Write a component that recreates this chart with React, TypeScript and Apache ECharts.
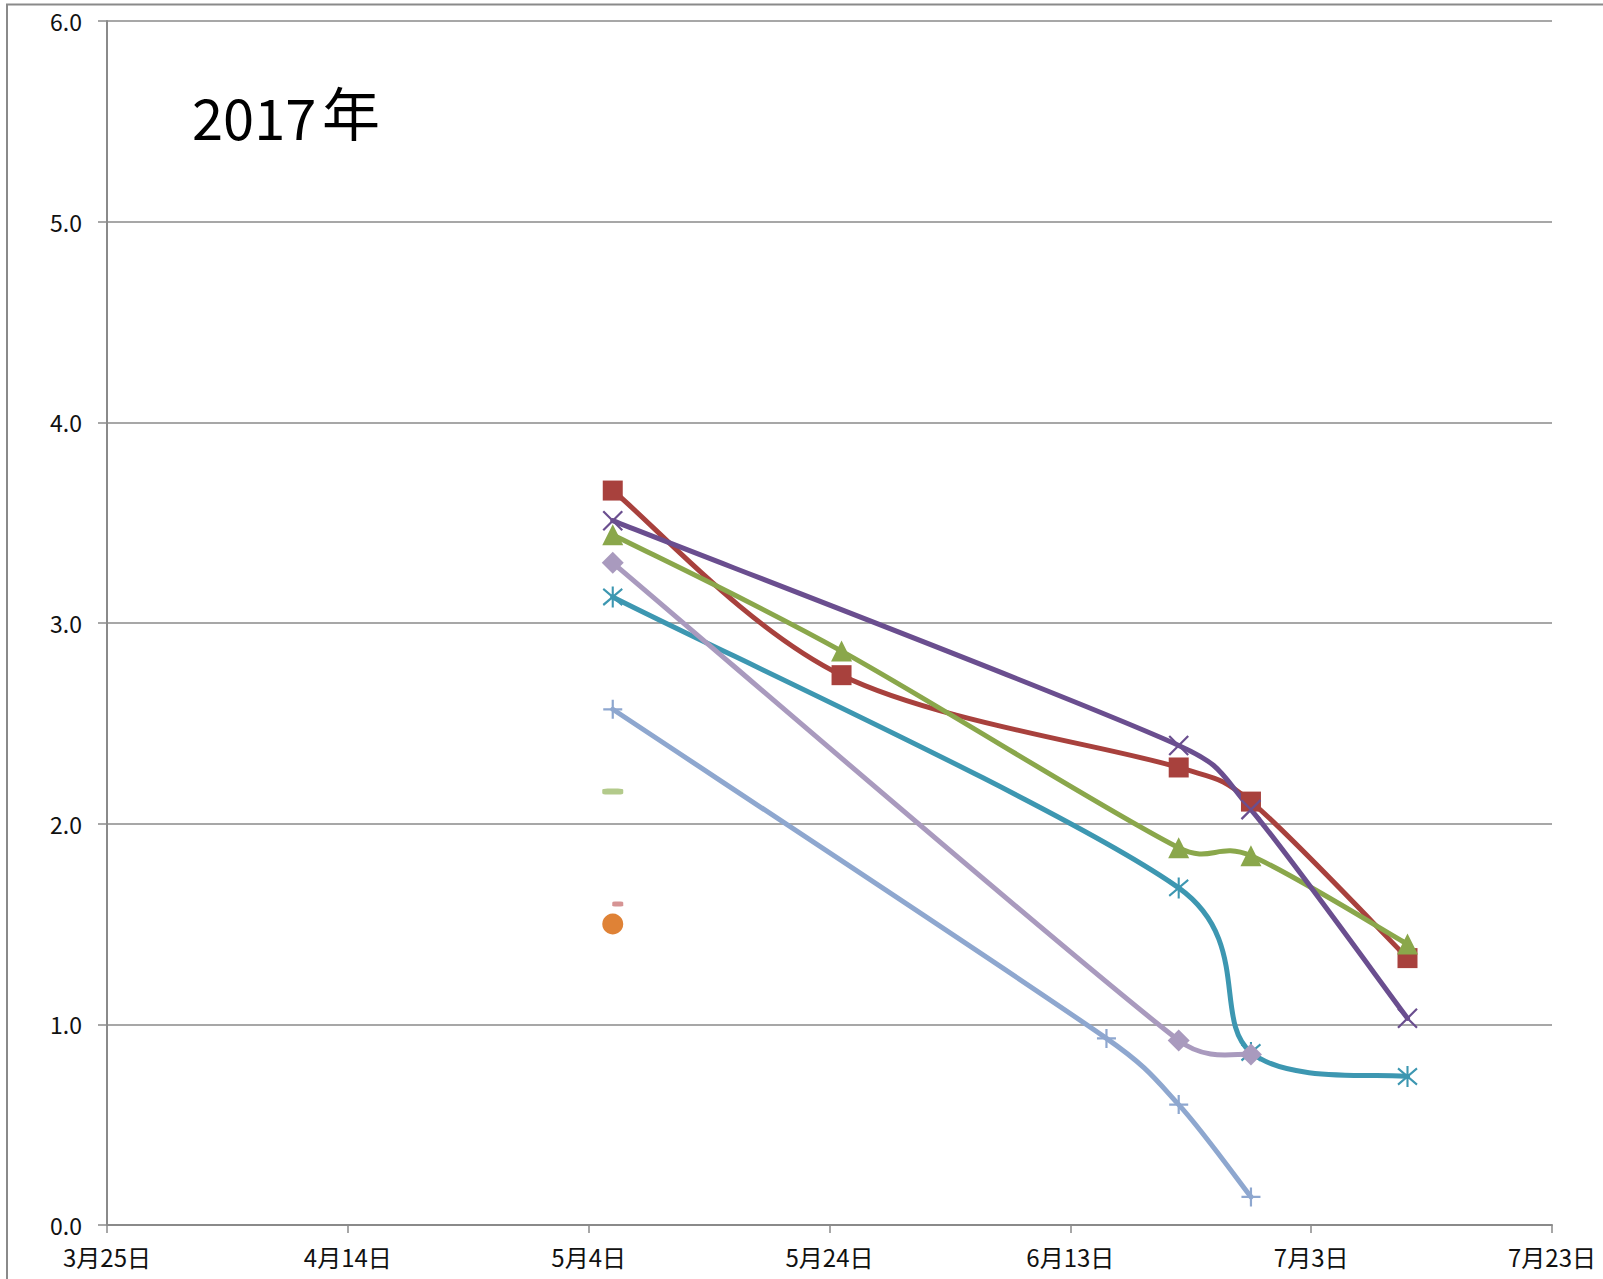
import React, { useEffect, useRef } from "react";
import * as echarts from "echarts";

// ---- data ----
const axisStart = "2017-03-25";
const axisEndDays = 120;
const tickStepDays = 20;
const yTicks = [0, 1, 2, 3, 4, 5, 6];
const titleYear = "2017";
const titleSuffix = "年";

const redDates = ["2017-05-06", "2017-05-25", "2017-06-22", "2017-06-28", "2017-07-11"];
const redValues = [3.66, 2.74, 2.28, 2.11, 1.33];

const greenDates = ["2017-05-06", "2017-05-25", "2017-06-22", "2017-06-28", "2017-07-11"];
const greenValues = [3.44, 2.86, 1.88, 1.84, 1.40];

const purpleDates = ["2017-05-06", "2017-06-22", "2017-06-28", "2017-07-11"];
const purpleValues = [3.51, 2.39, 2.07, 1.03];

const tealDates = ["2017-05-06", "2017-06-22", "2017-06-28", "2017-07-11"];
const tealValues = [3.13, 1.68, 0.86, 0.74];

const orangeDates = ["2017-05-06"];
const orangeValues = [1.50];

const blueDates = ["2017-05-06", "2017-06-16", "2017-06-22", "2017-06-28"];
const blueValues = [2.57, 0.93, 0.60, 0.14];

const lilacDates = ["2017-05-06", "2017-06-22", "2017-06-28"];
const lilacValues = [3.30, 0.92, 0.85];

const lightGreenDates = ["2017-05-06"];
const lightGreenValues = [2.16];

const pinkDates = ["2017-05-06"];
const pinkValues = [1.60];

// ---- helpers ----
const DAY = 86400000;
const parse = (s: string) => {
  const [y, m, d] = s.split("-").map(Number);
  return Date.UTC(y, m - 1, d);
};
const base = parse(axisStart);
const dayOf = (s: string) => (parse(s) - base) / DAY;
const pairs = (ds: string[], vs: number[]) => ds.map((d, i) => [dayOf(d), vs[i]]);
const fmtDay = (v: number) => {
  const d = new Date(base + v * DAY);
  return `${d.getUTCMonth() + 1}月${d.getUTCDate()}日`;
};

const FONT = "'Noto Sans CJK JP', 'Noto Sans', sans-serif";
const GRAY = "#8a8a8a";
const LINE_W = 5;

const X_PATH = "path://M0,0L10,10M10,0L0,10";
const STAR_PATH = "path://M0,1.5L10,11.5M10,1.5L0,11.5M5,0L5,13";
const PLUS_PATH = "path://M0,5L10,5M5,0L5,10";

const dist = (a: number[], b: number[]) => Math.hypot(a[0] - b[0], a[1] - b[1]);

// Excel-like smoothed curve (Bezier, tangent 1/6 of neighbour span, capped at half the segment)
function curveSeries(name: string, data: number[][], color: string) {
  return {
    name: name + "-curve",
    type: "custom",
    coordinateSystem: "cartesian2d",
    data,
    clip: false,
    silent: true,
    renderItem: (params: any, api: any) => {
      if (params.dataIndex !== 0) return null;
      const p = data.map((d) => api.coord(d));
      const n = p.length;
      let d = `M${p[0][0]},${p[0][1]}`;
      for (let i = 0; i < n - 1; i++) {
        const p0 = p[Math.max(0, i - 1)];
        const p1 = p[i];
        const p2 = p[i + 1];
        const p3 = p[Math.min(n - 1, i + 2)];
        const d12 = dist(p1, p2);
        const d02 = dist(p0, p2) || 1;
        const d13 = dist(p1, p3) || 1;
        const f1 = Math.min(1 / 6, d12 / (2 * d02));
        const f2 = Math.min(1 / 6, d12 / (2 * d13));
        const c1x = p1[0] + (p2[0] - p0[0]) * f1;
        const c1y = p1[1] + (p2[1] - p0[1]) * f1;
        const c2x = p2[0] - (p3[0] - p1[0]) * f2;
        const c2y = p2[1] - (p3[1] - p1[1]) * f2;
        d += ` C${c1x},${c1y} ${c2x},${c2y} ${p2[0]},${p2[1]}`;
      }
      return {
        type: "path",
        shape: { pathData: d },
        style: { stroke: color, lineWidth: LINE_W, fill: "none", lineJoin: "round", lineCap: "round" },
      };
    },
  };
}

function markerSeries(name: string, data: number[][], color: string, symbol: string, size: any, stroke = false, extra: any = {}) {
  return {
    name,
    type: "scatter",
    data,
    symbol,
    symbolSize: size,
    itemStyle: stroke
      ? { color: color, borderColor: color, borderWidth: 2.2, opacity: 1 }
      : { color: color, borderWidth: 0, opacity: 1 },
    emphasis: { disabled: true },
    silent: true,
    ...extra,
  };
}

export default function App() {
  const ref = useRef<HTMLDivElement>(null);
  useEffect(() => {
    if (!ref.current) return;
    const chart = echarts.init(ref.current, undefined, { renderer: "svg" });
    const red = pairs(redDates, redValues);
    const green = pairs(greenDates, greenValues);
    const purple = pairs(purpleDates, purpleValues);
    const teal = pairs(tealDates, tealValues);
    const blue = pairs(blueDates, blueValues);
    const lilac = pairs(lilacDates, lilacValues);
    chart.setOption({
      animation: false,
      backgroundColor: "#ffffff",
      grid: { left: 107, right: 51, top: 21, bottom: 54, containLabel: false },
      xAxis: {
        type: "value",
        min: 0,
        max: axisEndDays,
        interval: tickStepDays,
        axisLine: { show: true, lineStyle: { color: GRAY, width: 2 } },
        axisTick: { show: true, inside: false, length: 8, lineStyle: { color: GRAY, width: 1.5 } },
        splitLine: { show: false },
        axisLabel: {
          formatter: (v: number) => fmtDay(v),
          fontFamily: FONT,
          fontSize: 24,
          color: "#111",
          margin: 19,
        },
      },
      yAxis: {
        type: "value",
        min: yTicks[0],
        max: yTicks[yTicks.length - 1],
        interval: 1,
        axisLine: { show: true, lineStyle: { color: GRAY, width: 2 } },
        axisTick: { show: true, inside: false, length: 9, lineStyle: { color: GRAY, width: 1.5 } },
        splitLine: { show: true, lineStyle: { color: GRAY, width: 1.5 } },
        axisLabel: {
          formatter: (v: number) => v.toFixed(1),
          fontFamily: FONT,
          fontSize: 23,
          color: "#111",
          margin: 25,
        },
      },
      graphic: [
        {
          type: "rect",
          silent: true,
          shape: { x: 7, y: 4.5, width: 1700, height: 1400 },
          style: { fill: "none", stroke: GRAY, lineWidth: 2 },
        },
        {
          type: "text",
          x: 192,
          y: 115,
          style: {
            text: titleYear,
            fontFamily: FONT,
            fontSize: 56,
            fill: "#000",
            textAlign: "left",
            textVerticalAlign: "middle",
          },
        },
        {
          type: "text",
          x: 322,
          y: 111,
          style: {
            text: titleSuffix,
            fontFamily: FONT,
            fontSize: 58,
            fill: "#000",
            textAlign: "left",
            textVerticalAlign: "middle",
          },
        },
      ],
      series: [
        curveSeries("red", red, "#A8413D"),
        markerSeries("red", red, "#A8413D", "rect", 20),
        curveSeries("green", green, "#8AA74B"),
        markerSeries("green", green, "#8AA74B", "triangle", 21),
        curveSeries("purple", purple, "#6A4E8F"),
        markerSeries("purple", purple, "#6A4E8F", X_PATH, 19, true),
        curveSeries("teal", teal, "#3D97B1"),
        markerSeries("teal", teal, "#3D97B1", STAR_PATH, [19, 21], true),
        markerSeries("orange", pairs(orangeDates, orangeValues), "#DF8236", "circle", 21),
        curveSeries("blue", blue, "#8EA7CF"),
        markerSeries("blue", blue, "#8EA7CF", PLUS_PATH, 19, true),
        curveSeries("lilac", lilac, "#A99ABE"),
        markerSeries("lilac", lilac, "#A99ABE", "diamond", 22),
        markerSeries("lightgreen", pairs(lightGreenDates, lightGreenValues), "#B3CA8B", "roundRect", [21, 6]),
        markerSeries("pink", pairs(pinkDates, pinkValues), "#D69494", "roundRect", [11, 5], false, { symbolOffset: [5, 0] }),
      ],
    });
    return () => chart.dispose();
  }, []);
  return (
    <div
      ref={ref}
      style={{ position: "absolute", left: 0, top: 0, width: 1603, height: 1279 }}
    />
  );
}
